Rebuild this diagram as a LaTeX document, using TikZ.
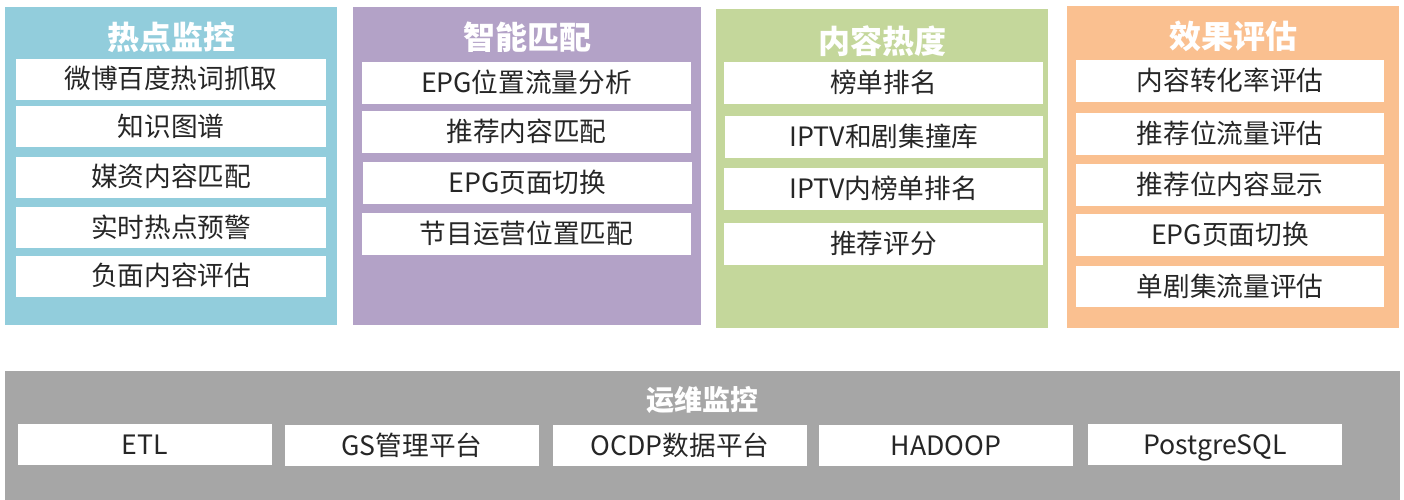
\documentclass[tikz,border=0pt]{standalone}
\usepackage{fontspec}
\setmainfont{Noto Sans CJK SC}
\definecolor{cblue}{HTML}{92CDDC}
\definecolor{cpurple}{HTML}{B3A2C7}
\definecolor{cgreen}{HTML}{C4D79B}
\definecolor{corange}{HTML}{FAC090}
\definecolor{cgray}{HTML}{A6A6A6}
\definecolor{txt}{HTML}{262626}
\tikzset{
  panel/.style={inner sep=0pt, draw=none},
  item/.style={fill=white, inner sep=0pt, text=txt, font=\fontsize{20}{24}\selectfont, text height=17pt, text depth=2.4pt, minimum height=41*0.75pt},
  ptitle/.style={inner sep=0pt, text=white, font=\fontsize{24}{28}\selectfont\bfseries, text height=20.6pt, text depth=2.9pt},
  btitle/.style={inner sep=0pt, text=white, font=\fontsize{21}{25}\selectfont\bfseries, text height=18pt, text depth=2.5pt},
}
\begin{document}
\begin{tikzpicture}[x=0.75pt,y=-0.75pt]
\useasboundingbox (0,0) rectangle (1404,500);
% panel 1
\node[panel, fill=cblue, minimum width=332*0.75pt, minimum height=318*0.75pt] (p1) at (171,166) {};
\node[ptitle] (t1) at (171,38) {热点监控};
\node[item, minimum width=310*0.75pt] (a1) at (171,79) {微博百度热词抓取};
\node[item, minimum width=310*0.75pt] (a2) at (171,126.5) {知识图谱};
\node[item, minimum width=310*0.75pt] (a3) at (171,177) {媒资内容匹配};
\node[item, minimum width=310*0.75pt] (a4) at (171,227.5) {实时热点预警};
\node[item, minimum width=310*0.75pt] (a5) at (171,276) {负面内容评估};
% panel 2
\node[panel, fill=cpurple, minimum width=348*0.75pt, minimum height=318*0.75pt] (p2) at (527,166) {};
\node[ptitle] (t2) at (527,38) {智能匹配};
\node[item, minimum width=329*0.75pt, minimum height=42*0.75pt] (b1) at (526.5,83) {EPG位置流量分析};
\node[item, minimum width=329*0.75pt, minimum height=42*0.75pt] (b2) at (526.5,132) {推荐内容匹配};
\node[item, minimum width=329*0.75pt, minimum height=42*0.75pt] (b3) at (527.5,182.5) {EPG页面切换};
\node[item, minimum width=329*0.75pt, minimum height=42*0.75pt] (b4) at (526.5,234) {节目运营位置匹配};
% panel 3
\node[panel, fill=cgreen, minimum width=332*0.75pt, minimum height=319*0.75pt] (p3) at (882,168.5) {};
\node[ptitle] (t3) at (882,42) {内容热度};
\node[item, minimum width=319*0.75pt, minimum height=42*0.75pt] (c1) at (883.5,83) {榜单排名};
\node[item, minimum width=318*0.75pt, minimum height=42*0.75pt] (c2) at (884,137) {IPTV和剧集撞库};
\node[item, minimum width=319*0.75pt, minimum height=42*0.75pt] (c3) at (883.5,189) {IPTV内榜单排名};
\node[item, minimum width=319*0.75pt, minimum height=42*0.75pt] (c4) at (883.5,244) {推荐评分};
% panel 4
\node[panel, fill=corange, minimum width=332*0.75pt, minimum height=322*0.75pt] (p4) at (1233,167) {};
\node[ptitle] (t4) at (1233,37) {效果评估};
\node[item, minimum width=308*0.75pt, minimum height=42*0.75pt] (d1) at (1230,81) {内容转化率评估};
\node[item, minimum width=308*0.75pt, minimum height=42*0.75pt] (d2) at (1230,134) {推荐位流量评估};
\node[item, minimum width=308*0.75pt, minimum height=42*0.75pt] (d3) at (1230,185) {推荐位内容显示};
\node[item, minimum width=308*0.75pt, minimum height=42*0.75pt] (d4) at (1230,235) {EPG页面切换};
\node[item, minimum width=308*0.75pt, minimum height=41*0.75pt] (d5) at (1230,286.5) {单剧集流量评估};
% bottom
\node[panel, fill=cgray, minimum width=1395*0.75pt, minimum height=129*0.75pt] (p5) at (702.5,435.5) {};
\node[btitle] (t5) at (702,400) {运维监控};
\node[item, minimum width=254*0.75pt, minimum height=41*0.75pt] (e1) at (145,444.5) {ETL};
\node[item, minimum width=254*0.75pt, minimum height=41*0.75pt] (e2) at (412,445.5) {GS管理平台};
\node[item, minimum width=254*0.75pt, minimum height=41*0.75pt] (e3) at (680,445.5) {OCDP数据平台};
\node[item, minimum width=254*0.75pt, minimum height=41*0.75pt] (e4) at (946,445.5) {HADOOP};
\node[item, minimum width=254*0.75pt, minimum height=41*0.75pt] (e5) at (1215,444.5) {PostgreSQL};
\end{tikzpicture}
\end{document}
